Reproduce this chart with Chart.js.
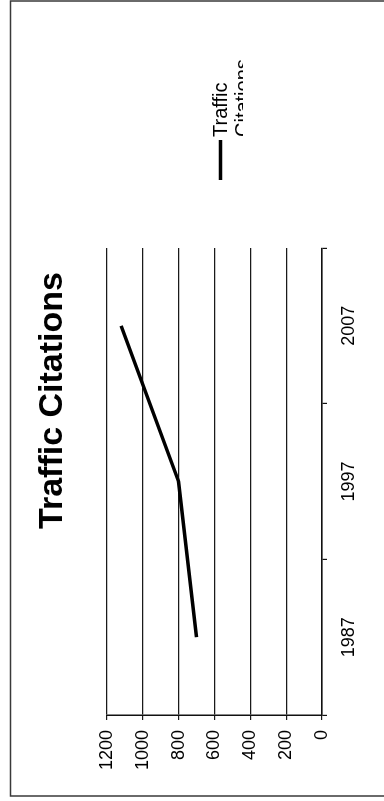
<!DOCTYPE html>
<html>
<head>
<meta charset="utf-8">
<title>Traffic Citations</title>
<script src="https://cdn.jsdelivr.net/npm/chart.js@4.4.1/dist/chart.umd.min.js"></script>
<style>
  html, body { margin: 0; padding: 0; background: #fff; overflow: hidden; width: 384px; height: 801px; }
  /* the sheet is laid out landscape and turned a quarter turn counter-clockwise */
  #sheet { position: absolute; left: 0; top: 0; width: 801px; height: 384px;
           transform-origin: 0 0; transform: translateY(801px) rotate(-90deg); background: #fff; }
  canvas { display: block; }
</style>
</head>
<body>
<div id="sheet"><canvas id="chart" width="801" height="384"></canvas></div>
<script>
// ---- data ----
const years = ['1987', '1997', '2007'];
const citations = [700, 800, 1120];
const valueTicks = [0, 200, 400, 600, 800, 1000, 1200];
const seriesName = 'Traffic Citations';
const chartTitle = 'Traffic Citations';

const FONT = "'Liberation Sans', Arial, Helvetica, sans-serif";
Chart.defaults.font.family = FONT;
Chart.defaults.color = '#000';

// Legend panel on the right side: a line swatch and the series name,
// wrapped onto two lines inside a box that cuts the second line short.
const sideLegend = {
  id: 'sideLegend',
  beforeInit(chart) {
    const box = {
      position: 'right', weight: 1000, fullSize: false,
      options: {},
      left: 0, top: 0, right: 0, bottom: 0, width: 0, height: 0,
      isHorizontal() { return false; },
      update(maxWidth, maxHeight) { this.width = 248; this.height = maxHeight; },
      draw() {
        const ctx = chart.ctx;
        const area = chart.chartArea;
        const ds = chart.data.datasets[0];
        const words = ds.label.split(' ');
        const x0 = this.left + 68;
        const cy = (area.top + area.bottom) / 2 + 6;
        ctx.save();
        ctx.strokeStyle = ds.borderColor;
        ctx.lineWidth = ds.borderWidth;
        ctx.beginPath();
        ctx.moveTo(x0, cy);
        ctx.lineTo(x0 + 40, cy);
        ctx.stroke();
        ctx.beginPath();
        ctx.rect(this.left, this.top, this.width, cy + 22.5 - this.top);
        ctx.clip();
        ctx.font = '20px ' + FONT;
        ctx.fillStyle = '#000';
        ctx.textBaseline = 'middle';
        ctx.textAlign = 'left';
        words.forEach((w, i) => ctx.fillText(w, x0 + 43, cy + 1 + i * 22));
        ctx.restore();
      }
    };
    Chart.layouts.addBox(chart, box);
  }
};

// Thin outer frame around the sheet
const sheetFrame = {
  id: 'sheetFrame',
  afterDraw(chart) {
    const ctx = chart.ctx;
    const w = chart.width, h = chart.height;
    ctx.save();
    ctx.strokeStyle = '#3a3a3a';
    ctx.lineWidth = 1.5;
    ctx.beginPath();
    ctx.moveTo(5, h);
    ctx.lineTo(5, 10.5);
    ctx.lineTo(w - 1, 10.5);
    ctx.lineTo(w - 1, h);
    ctx.stroke();
    ctx.restore();
  }
};

new Chart(document.getElementById('chart'), {
  type: 'line',
  data: {
    labels: years,
    datasets: [{
      label: seriesName,
      data: citations,
      borderColor: '#000',
      borderWidth: 3.5,
      pointRadius: 0,
      pointHoverRadius: 0,
      tension: 0,
      fill: false
    }]
  },
  options: {
    responsive: false,
    animation: false,
    devicePixelRatio: 1,
    layout: { padding: 0 },
    events: [],
    plugins: {
      legend: { display: false },
      tooltip: { enabled: false },
      title: {
        display: true,
        text: chartTitle,
        color: '#000',
        font: { family: FONT, size: 34, weight: 'bold', lineHeight: 1.2 },
        padding: { top: 32, bottom: 34 }
      }
    },
    scales: {
      x: {
        type: 'category',
        offset: true,
        grid: { display: true, offset: true, drawOnChartArea: false, drawTicks: true,
                tickLength: 5, color: '#111', lineWidth: 1.2 },
        border: { display: true, color: '#111', width: 1.5 },
        ticks: { color: '#000', font: { size: 18 }, padding: 11, maxRotation: 0, autoSkip: false },
        afterFit(s) { s.height = 62; }
      },
      y: {
        min: 0,
        max: 1200,
        grid: { color: '#1a1a1a', lineWidth: 1.2, drawTicks: true, tickLength: 5 },
        border: { display: true, color: '#111', width: 1.5 },
        ticks: { color: '#000', font: { size: 18 }, padding: 10, callback: v => String(v) },
        afterBuildTicks(s) { s.ticks = valueTicks.map(v => ({ value: v })); },
        afterFit(s) { s.width = 86; }
      }
    }
  },
  plugins: [sideLegend, sheetFrame]
});
</script>
</body>
</html>
